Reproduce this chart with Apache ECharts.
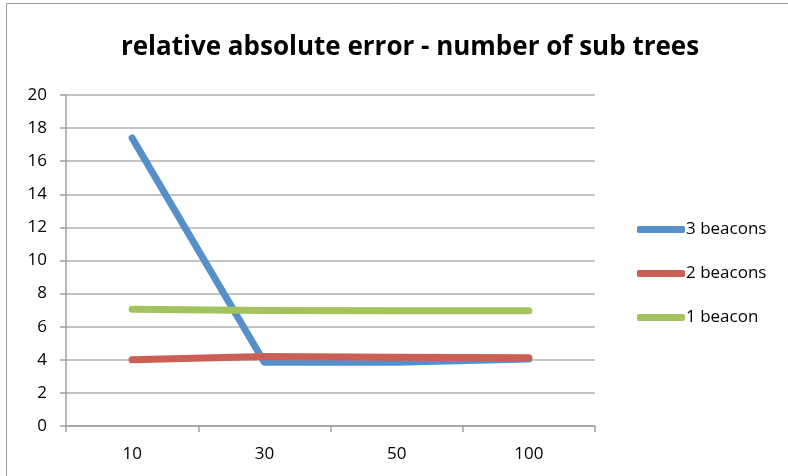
<!DOCTYPE html>
<html>
<head>
<meta charset="utf-8">
<script src="https://cdn.jsdelivr.net/npm/echarts@6/dist/echarts.min.js"></script>
<style>html,body{margin:0;padding:0;background:#fff}#c{width:788px;height:476px}</style>
</head>
<body>
<div id="c"></div>
<script>
const categories = ['10', '30', '50', '100'];
const seriesNames = ['3 beacons', '2 beacons', '1 beacon'];
const beacons3 = [17.4, 3.85, 3.85, 4.05];
const beacons2 = [4.0, 4.2, 4.15, 4.12];
const beacons1 = [7.05, 6.98, 6.97, 6.97];
const colors = ['#5690CB', '#CC5F55', '#A3C35E'];

const chart = echarts.init(document.getElementById('c'));
const font = '"Open Sans", "Noto Sans", sans-serif';
const mk = (name, data, color) => ({
  name, type: 'line', data, symbol: 'none', smooth: false,
  lineStyle: { width: 7, color, cap: 'round', join: 'round' },
  itemStyle: { color }
});
chart.setOption({
  animation: false,
  color: colors,
  title: {
    text: 'relative absolute error - number of sub trees',
    left: 405, top: 30, textAlign: 'center',
    textStyle: { fontFamily: font, fontWeight: 'bold', fontSize: 26, color: '#000' }
  },
  graphic: [{ type: 'rect', shape: { x: 6.5, y: 3.5, width: 800, height: 500 }, style: { fill: 'none', stroke: '#9a9a9a', lineWidth: 1 } }],
  legend: {
    orient: 'vertical', left: 632, top: 216, itemGap: 27, itemWidth: 48, itemHeight: 7,
    itemStyle: { borderWidth: 0 },
    icon: 'roundRect',
    textStyle: { fontFamily: font, fontSize: 17, color: '#000', padding: [0, 0, 0, -4] },
    data: seriesNames
  },
  grid: { left: 66, right: 193, top: 95, bottom: 50 },
  xAxis: {
    type: 'category', data: categories, boundaryGap: true,
    axisLine: { lineStyle: { color: '#a0a0a0', width: 1.5 } },
    axisTick: { show: true, length: 6, lineStyle: { color: '#a0a0a0', width: 1.5 } },
    axisLabel: { fontFamily: font, fontSize: 17, color: '#000', margin: 20 }
  },
  yAxis: {
    type: 'value', min: 0, max: 20, interval: 2,
    axisLine: { show: true, lineStyle: { color: '#a0a0a0', width: 1.5 } },
    axisTick: { show: true, length: 6, lineStyle: { color: '#a0a0a0', width: 1.5 } },
    splitLine: { lineStyle: { color: '#b0b0b0', width: 1.5 } },
    axisLabel: { fontFamily: font, fontSize: 17, color: '#000', margin: 19 }
  },
  series: [mk(seriesNames[0], beacons3, colors[0]), mk(seriesNames[1], beacons2, colors[1]), mk(seriesNames[2], beacons1, colors[2])]
});
</script>
</body>
</html>
